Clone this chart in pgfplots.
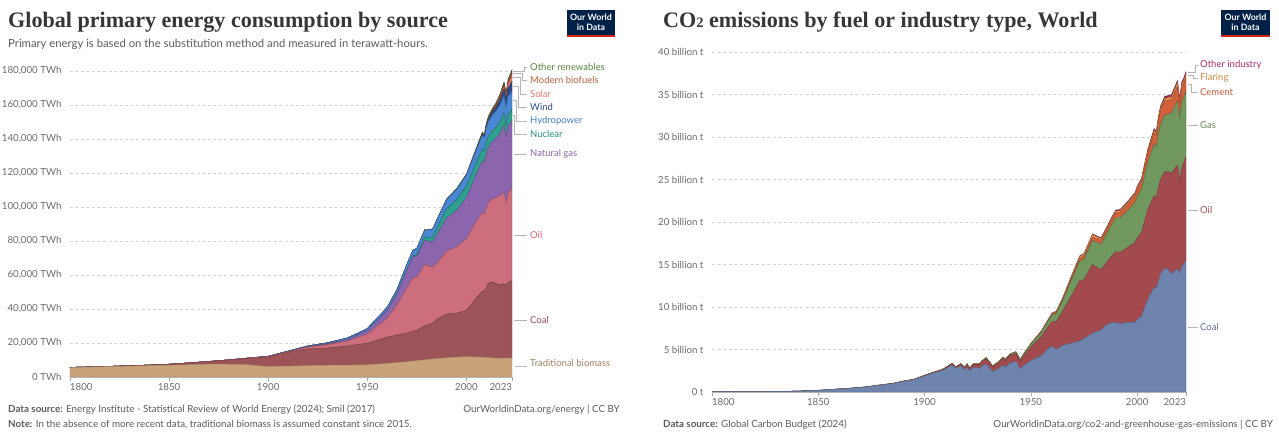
\documentclass[border=0pt]{standalone}
\usepackage{pgfplots}
\pgfplotsset{compat=1.18}
\usepackage{pgfplotstable}
\usepackage{fontspec}
\setmainfont{Lato}
\newfontfamily\titlefont{Liberation Serif}

\definecolor{cbio}{HTML}{C9A27A}
\definecolor{ccoal}{HTML}{9C5458}
\definecolor{coil}{HTML}{CC6E7D}
\definecolor{cgas}{HTML}{8B66AE}
\definecolor{cnuc}{HTML}{2FA08F}
\definecolor{chyd}{HTML}{4A88D3}
\definecolor{cwind}{HTML}{2B4B8A}
\definecolor{csol}{HTML}{E8776B}
\definecolor{cbiof}{HTML}{B8603E}
\definecolor{coth}{HTML}{6A9E4A}

\definecolor{rcoal}{HTML}{6E84AD}
\definecolor{roil}{HTML}{A34A4F}
\definecolor{rgas}{HTML}{71985E}
\definecolor{rcem}{HTML}{D3603A}
\definecolor{rflar}{HTML}{E49A4E}
\definecolor{roth}{HTML}{A82E63}

\definecolor{tickgray}{HTML}{6B6B6B}
\definecolor{notegray}{HTML}{5B5B5B}
\definecolor{titlegray}{HTML}{363636}
\definecolor{owidblue}{HTML}{002147}
\definecolor{owidred}{HTML}{CE261E}
\definecolor{leadgray}{HTML}{B5B5B5}

\pgfplotstableread{
year bio coal oil gas nuc hyd wind sol biof oth
1800 5556 97 0 0 0 0 0 0 0 0
1810 5833 128 0 0 0 0 0 0 0 0
1820 6111 153 0 0 0 0 0 0 0 0
1830 6389 264 0 0 0 0 0 0 0 0
1840 6667 356 0 0 0 0 0 0 0 0
1850 6944 569 0 0 0 0 0 0 0 0
1860 7222 1061 0 0 0 0 0 0 0 0
1870 7500 1642 6 0 0 0 0 0 0 0
1880 7500 2542 33 0 0 0 0 0 0 0
1890 7200 3856 89 30 0 0 0 0 0 0
1900 6111 5728 181 64 0 100 0 0 0 0
1910 6400 8106 383 161 0 200 0 0 0 0
1920 6700 9833 1097 239 0 400 0 0 0 0
1930 6900 10125 1972 569 0 600 0 0 0 0
1940 7000 11236 2944 875 0 900 0 0 0 0
1950 7200 12603 5444 2092 0 1100 0 0 0 0
1960 8000 15442 11097 4472 0 1900 0 0 0 30
1965 8500 16140 18100 6300 70 2400 0 0 0 60
1970 9000 16860 26700 10400 230 3100 0 0 0 80
1973 9400 17500 31700 12000 560 3400 0 0 0 100
1975 9600 17800 31300 12200 1000 3700 0 0 0 110
1979 10100 20000 36200 14200 1900 4200 0 0 0 150
1980 10200 20300 35200 14400 1950 4300 0 0 0 160
1983 10600 21000 33000 14800 3000 4600 0 0 0 220
1985 10800 23000 33200 16400 3900 4800 0 0 50 260
1990 11300 25700 37000 19500 5500 5300 10 0 100 350
1995 11700 25800 39000 21400 6300 6000 20 0 110 420
2000 12000 27100 42200 24100 6800 6500 80 0 120 520
2005 11800 34600 45300 27500 7100 7300 260 10 220 680
2008 11650 38700 46200 30500 7000 8100 560 30 450 800
2009 11600 38800 45600 29800 6900 8100 700 50 520 850
2010 11500 41000 47100 31600 7000 8500 880 80 600 900
2011 11400 43500 47500 32300 6700 8800 1100 160 620 950
2013 11250 44700 48800 33700 6300 9300 1700 350 700 1050
2015 11111 43800 50700 34700 6500 9700 2200 650 870 1200
2017 11111 43000 52600 36700 6700 10200 2900 1100 1000 1300
2019 11111 43800 54000 39300 7000 10400 3600 1800 1100 1450
2020 11111 42200 48900 38800 6800 10800 4000 2200 1000 1500
2021 11111 44500 51700 40400 7000 10600 4600 2600 1100 1550
2022 11111 45000 53500 39400 6700 10800 5200 3300 1200 1550
2023 11111 45600 54600 39500 6800 10500 5800 4000 1300 1600
}\energy

\pgfplotstableread{
year coal oil gas cem flar oth
1800 0.028 0 0 0 0 0
1810 0.035 0 0 0 0 0
1820 0.045 0 0 0 0 0
1830 0.065 0 0 0 0 0
1840 0.10 0 0 0 0 0
1850 0.197 0 0 0 0 0
1860 0.36 0 0 0 0 0
1870 0.53 0.001 0 0 0 0
1875 0.68 0.003 0 0 0 0
1880 0.85 0.01 0 0 0 0
1885 0.98 0.015 0.005 0 0 0
1890 1.25 0.02 0.01 0 0 0
1895 1.45 0.03 0.012 0 0 0
1900 1.90 0.045 0.015 0 0 0
1905 2.30 0.07 0.02 0 0 0
1908 2.50 0.09 0.025 0 0 0
1910 2.75 0.10 0.03 0 0 0
1913 3.20 0.14 0.035 0 0 0
1914 2.90 0.15 0.035 0 0 0
1915 2.80 0.16 0.04 0 0 0
1917 3.10 0.19 0.045 0 0 0
1919 2.60 0.22 0.045 0 0 0
1920 3.00 0.28 0.05 0 0 0
1921 2.50 0.29 0.05 0 0 0
1923 2.90 0.35 0.06 0 0 0
1926 2.80 0.42 0.08 0.02 0 0
1927 3.10 0.47 0.09 0.02 0 0
1929 3.30 0.60 0.11 0.03 0 0
1932 2.40 0.55 0.10 0.02 0 0
1935 2.80 0.65 0.12 0.03 0 0
1937 3.20 0.75 0.14 0.03 0 0
1938 2.90 0.76 0.14 0.03 0 0
1940 3.40 0.85 0.16 0.04 0 0
1943 3.60 0.90 0.20 0.04 0 0
1945 2.70 0.85 0.22 0.03 0 0
1946 3.00 1.00 0.23 0.04 0 0
1950 3.70 1.55 0.35 0.07 0.02 0.01
1955 4.30 2.20 0.55 0.10 0.04 0.02
1958 5.10 2.50 0.68 0.12 0.06 0.02
1960 5.40 2.85 0.80 0.14 0.07 0.03
1962 5.00 3.30 0.95 0.16 0.08 0.03
1965 5.50 4.00 1.25 0.20 0.10 0.04
1970 5.80 5.90 2.00 0.28 0.17 0.06
1973 6.00 7.10 2.30 0.33 0.22 0.07
1975 6.30 6.90 2.40 0.34 0.25 0.08
1979 6.90 8.10 2.80 0.40 0.30 0.10
1980 7.00 7.80 2.90 0.41 0.27 0.10
1983 7.30 7.10 3.00 0.43 0.20 0.11
1985 7.80 7.20 3.30 0.45 0.19 0.12
1988 8.20 7.80 3.70 0.52 0.20 0.13
1990 8.20 8.30 4.00 0.56 0.22 0.14
1992 8.00 8.40 4.10 0.60 0.22 0.14
1995 8.20 8.70 4.30 0.67 0.24 0.15
1999 8.20 9.40 4.70 0.74 0.25 0.16
2000 8.50 9.60 4.90 0.76 0.26 0.17
2002 8.90 9.80 5.10 0.84 0.27 0.18
2005 10.90 10.50 5.60 1.05 0.29 0.20
2008 12.30 10.80 6.10 1.30 0.28 0.22
2009 12.20 10.60 6.00 1.35 0.27 0.22
2010 13.00 11.00 6.40 1.48 0.28 0.23
2011 13.90 11.10 6.50 1.58 0.28 0.24
2013 14.60 11.30 6.70 1.65 0.29 0.25
2014 14.50 11.40 6.70 1.66 0.30 0.26
2015 14.30 11.60 6.90 1.58 0.31 0.26
2016 13.90 11.80 7.00 1.60 0.32 0.27
2019 14.50 12.20 7.60 1.64 0.42 0.28
2020 14.00 10.80 7.40 1.65 0.38 0.29
2021 14.80 11.50 7.80 1.67 0.38 0.30
2022 15.10 11.90 7.70 1.60 0.38 0.30
2023 15.50 12.20 7.70 1.60 0.40 0.30
}\cotwo

\pgfplotsset{
  owid/.style={
    scale only axis,
    anchor=south west,
    stack plots=y,
    no markers,
    scaled ticks=false,
    axis lines=left,
    axis line style={-},
    y axis line style={draw=none},
    x axis line style={draw=black!30},
    ytick style={draw=none},
    xtick style={draw=black!35, line width=0.5pt},
    tick align=outside,
    major tick length=4pt,
    ymajorgrids,
    grid style={draw=black!17, dash pattern=on 3pt off 2.5pt, line width=0.5pt},
    ticklabel style={font=\fontsize{9.7}{11}\selectfont, text=tickgray},
    yticklabel style={anchor=east, xshift=-1pt},
    xticklabel style={yshift=1pt},
    every axis plot/.append style={line width=0.45pt, line join=round},
  }
}

\begin{document}
\begin{tikzpicture}[x=1pt,y=1pt]
\useasboundingbox (0,0) rectangle (1279,433);

% ---------------- left chart ----------------
\begin{axis}[owid,
  at={(70pt,56pt)}, width=442pt, height=314.5pt,
  xmin=1800, xmax=2023, ymin=0, ymax=185000,
  xtick={1800,1850,1900,1950,2000,2023},
  xticklabels={\makebox[0pt][l]{1800},1850,1900,1950,2000,\makebox[0pt][r]{2023}},
  ytick={0,20000,40000,60000,80000,100000,120000,140000,160000,180000},
  yticklabels={0 TWh,{20,000 TWh},{40,000 TWh},{60,000 TWh},{80,000 TWh},{100,000 TWh},{120,000 TWh},{140,000 TWh},{160,000 TWh},{180,000 TWh}},
]
\addplot[fill=cbio, draw=cbio!85!black] table[x=year,y=bio]{\energy} \closedcycle;
\addplot[fill=ccoal, draw=ccoal!75!black] table[x=year,y=coal]{\energy} \closedcycle;
\addplot[fill=coil, draw=coil!75!black] table[x=year,y=oil]{\energy} \closedcycle;
\addplot[fill=cgas, draw=cgas!75!black] table[x=year,y=gas]{\energy} \closedcycle;
\addplot[fill=cnuc, draw=cnuc!70!black] table[x=year,y=nuc]{\energy} \closedcycle;
\addplot[fill=chyd, draw=chyd!70!black] table[x=year,y=hyd]{\energy} \closedcycle;
\addplot[fill=cwind, draw=cwind!70!black] table[x=year,y=wind]{\energy} \closedcycle;
\addplot[fill=csol, draw=csol!70!black] table[x=year,y=sol]{\energy} \closedcycle;
\addplot[fill=cbiof, draw=cbiof!70!black] table[x=year,y=biof]{\energy} \closedcycle;
\addplot[fill=coth, draw=coth!45!black] table[x=year,y=oth]{\energy} \closedcycle;
\end{axis}

% ---------------- right chart ----------------
\begin{axis}[owid,
  at={(712pt,41pt)}, width=474pt, height=340pt,
  xmin=1800, xmax=2023, ymin=0, ymax=40,
  xtick={1800,1850,1900,1950,2000,2023},
  xticklabels={\makebox[0pt][l]{1800},1850,1900,1950,2000,\makebox[0pt][r]{2023}},
  ytick={0,5,10,15,20,25,30,35,40},
  yticklabels={0 t,5 billion t,10 billion t,15 billion t,20 billion t,25 billion t,30 billion t,35 billion t,40 billion t},
]
\addplot[fill=rcoal, draw=rcoal!80!black] table[x=year,y=coal]{\cotwo} \closedcycle;
\addplot[fill=roil, draw=roil!75!black] table[x=year,y=oil]{\cotwo} \closedcycle;
\addplot[fill=rgas, draw=rgas!75!black] table[x=year,y=gas]{\cotwo} \closedcycle;
\addplot[fill=rcem, draw=rcem!75!black] table[x=year,y=cem]{\cotwo} \closedcycle;
\addplot[fill=rflar, draw=rflar!75!black] table[x=year,y=flar]{\cotwo} \closedcycle;
\addplot[fill=roth, draw=roth!65!black] table[x=year,y=oth]{\cotwo} \closedcycle;
\end{axis}

% ---------------- titles ----------------
\node[anchor=base west, inner sep=0, text=titlegray] at (8,405)
  {\titlefont\bfseries\fontsize{22.1}{24}\selectfont Global primary energy consumption by source};
\node[anchor=base west, inner sep=0, text=notegray] at (8,385)
  {\fontsize{11.3}{13}\selectfont Primary energy is based on the substitution method and measured in terawatt-hours.};
\node[anchor=base west, inner sep=0, text=titlegray] at (663,405)
  {\titlefont\bfseries\fontsize{22.1}{24}\selectfont CO{\fontsize{14.5}{14}\selectfont 2} emissions by fuel or industry type, World};

% ---------------- logos ----------------
\fill[owidblue] (567,396) rectangle (615,423);
\fill[owidred] (567,396) rectangle (615,398.3);
\node[text=white, align=center, inner sep=0, font=\fontsize{8.8}{10}\selectfont\bfseries] at (591,411) {Our World\\in Data};
\fill[owidblue] (1221,396) rectangle (1270,423);
\fill[owidred] (1221,396) rectangle (1270,398.3);
\node[text=white, align=center, inner sep=0, font=\fontsize{8.8}{10}\selectfont\bfseries] at (1245.5,411) {Our World\\in Data};

% ---------------- left labels ----------------
\begin{scope}[every node/.style={anchor=west, inner sep=0, font=\fontsize{9.5}{11}\selectfont}]
\node[text=coth!85!black] at (530,433-67) {Other renewables};
\node[text=cbiof] at (530,433-80) {Modern biofuels};
\node[text=csol] at (530,433-94) {Solar};
\node[text=cwind] at (530,433-107) {Wind};
\node[text=chyd!90!black] at (530,433-121) {Hydropower};
\node[text=cnuc!90!black] at (530,433-134) {Nuclear};
\node[text=cgas] at (530,433-154) {Natural gas};
\node[text=coil!90!red] at (530,433-235) {Oil};
\node[text=ccoal!90!black] at (530,433-320) {Coal};
\node[text=cbio!80!black] at (530,433-363) {Traditional biomass};
\end{scope}
\begin{scope}[draw=leadgray, line width=0.7pt]
\draw (513,433-71)--(524,433-71)--(524,433-67)--(527,433-67);
\draw (513,433-73.5)--(522,433-73.5)--(522,433-80)--(527,433-80);
\draw (513,433-77)--(520,433-77)--(520,433-94)--(527,433-94);
\draw (513,433-86)--(518,433-86)--(518,433-107)--(527,433-107);
\draw (513,433-100)--(516,433-100)--(516,433-121)--(527,433-121);
\draw (513,433-115)--(514.5,433-115)--(514.5,433-134)--(527,433-134);
\draw (514,433-154)--(527,433-154);
\draw (514,433-235)--(527,433-235);
\draw (514,433-320)--(527,433-320);
\draw (515,433-366)--(527,433-366);
\end{scope}

% ---------------- right labels ----------------
\begin{scope}[every node/.style={anchor=west, inner sep=0, font=\fontsize{9.5}{11}\selectfont}]
\node[text=roth] at (1200,433-65) {Other industry};
\node[text=rflar!90!black] at (1200,433-78) {Flaring};
\node[text=rcem!90!black] at (1200,433-92) {Cement};
\node[text=rgas!90!black] at (1200,433-125) {Gas};
\node[text=roil] at (1200,433-210) {Oil};
\node[text=rcoal!85!black] at (1200,433-327) {Coal};
\end{scope}
\begin{scope}[draw=leadgray, line width=0.7pt]
\draw (1188,433-72.5)--(1195,433-72.5)--(1195,433-65)--(1198,433-65);
\draw (1188,433-75.8)--(1193,433-75.8)--(1193,433-78)--(1198,433-78);
\draw (1188,433-84)--(1191,433-84)--(1191,433-92)--(1198,433-92);
\draw (1188,433-125)--(1198,433-125);
\draw (1188,433-210)--(1198,433-210);
\draw (1188,433-327)--(1198,433-327);
\end{scope}

% ---------------- notes ----------------
\begin{scope}[every node/.style={inner sep=0, text=notegray, font=\fontsize{9.8}{11}\selectfont}]
\node[anchor=base west] at (8,20) {\textbf{Data source:} Energy Institute - Statistical Review of World Energy (2024); Smil (2017)};
\node[anchor=base east] at (620,20) {OurWorldinData.org/energy | CC BY};
\node[anchor=base west] at (8,5) {\textbf{Note:} In the absence of more recent data, traditional biomass is assumed constant since 2015.};
\node[anchor=base west] at (663,5) {\textbf{Data source:} Global Carbon Budget (2024)};
\node[anchor=base east] at (1273,5) {OurWorldinData.org/co2-and-greenhouse-gas-emissions | CC BY};
\end{scope}
\end{tikzpicture}
\end{document}
